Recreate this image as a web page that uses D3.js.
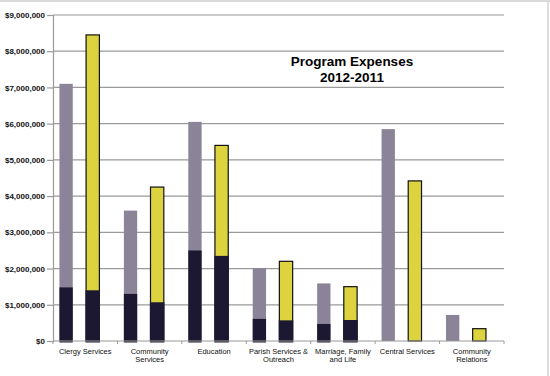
<!DOCTYPE html>
<html>
<head>
<meta charset="utf-8">
<script src="https://cdn.jsdelivr.net/npm/d3@7"></script>
<style>
  html, body { margin: 0; padding: 0; background: #fff; }
  svg { display: block; font-family: "Liberation Sans", Arial, sans-serif; }
</style>
</head>
<body>
<svg id="chart" width="550" height="376"></svg>
<script>
// ---- data ----
const categories = [
  ["Clergy Services"],
  ["Community", "Services"],
  ["Education"],
  ["Parish Services &", "Outreach"],
  ["Marriage, Family", "and Life"],
  ["Central Services"],
  ["Community", "Relations"]
];
const series = ["2012", "2011"];
const total2012 = [7100000, 3600000, 6050000, 2010000, 1590000, 5850000, 720000];
const total2011 = [8450000, 4250000, 5400000, 2200000, 1500000, 4420000, 340000];
const dark2012  = [1480000, 1300000, 2500000, 610000, 470000, 0, 0];
const dark2011  = [1400000, 1070000, 2350000, 570000, 580000, 0, 0];
const yTicks = [0, 1000000, 2000000, 3000000, 4000000, 5000000, 6000000, 7000000, 8000000, 9000000];
const titleLines = ["Program Expenses", "2012-2011"];

// ---- layout ----
const svg = d3.select("#chart");
const W = 550, H = 376;
const m = { left: 53, right: 46, top: 15, bottom: 35 };
const plotW = W - m.left - m.right, plotH = H - m.top - m.bottom;

// frame borders
svg.append("rect").attr("x", 0).attr("y", 0).attr("width", W).attr("height", 2).attr("fill", "#d9d9d9");
svg.append("rect").attr("x", 547).attr("y", 0).attr("width", 2).attr("height", H).attr("fill", "#dedede");

const g = svg.append("g").attr("transform", `translate(${m.left},${m.top})`);

const x0 = d3.scaleBand().domain(d3.range(categories.length)).range([0, plotW]).padding(0);
const bw = x0.bandwidth();
const x1 = d3.scaleBand().domain(series).range([bw * 0.1, bw * 0.72]).paddingInner(0.5).paddingOuter(0);
const y = d3.scaleLinear().domain([0, 9000000]).range([plotH, 0]);

// gridlines
g.append("g").selectAll("line").data(yTicks.filter(d => d > 0)).join("line")
  .attr("x1", 0).attr("x2", plotW)
  .attr("y1", d => y(d)).attr("y2", d => y(d))
  .attr("stroke", "#9a9a9a").attr("stroke-width", 1.2);

// y axis
const yAxis = d3.axisLeft(y).tickValues(yTicks).tickSize(6).tickPadding(2)
  .tickFormat(d => "$" + d3.format(",")(d));
const ya = g.append("g").call(yAxis);
ya.select(".domain").attr("stroke", "#9a9a9a").attr("stroke-width", 1.2);
ya.selectAll(".tick line").attr("stroke", "#9a9a9a").attr("stroke-width", 1.2);
ya.selectAll(".tick text").attr("font-size", 8).attr("fill", "#111")
  .attr("font-family", "Liberation Sans, Arial, sans-serif").attr("font-weight", "bold");

// bars
const rows = categories.map((c, i) => ({
  i,
  bars: [
    { s: "2012", total: total2012[i], dark: dark2012[i] },
    { s: "2011", total: total2011[i], dark: dark2011[i] }
  ]
}));
const color = { "2012": "#8b8398", "2011": "#dcd33e" };
const cg = g.selectAll(".cat").data(rows).join("g")
  .attr("transform", d => `translate(${x0(d.i)},0)`);
cg.selectAll(".tot").data(d => d.bars).join("rect")
  .attr("x", d => x1(d.s)).attr("width", x1.bandwidth())
  .attr("y", d => y(d.total)).attr("height", d => y(0) - y(d.total))
  .attr("fill", d => color[d.s])
  .attr("stroke", d => d.s === "2011" ? "#111" : "none").attr("stroke-width", 1.2);
cg.selectAll(".dk").data(d => d.bars.filter(b => b.dark > 0)).join("rect")
  .attr("x", d => x1(d.s) - (d.s === "2011" ? 0.6 : 0))
  .attr("width", d => x1.bandwidth() + (d.s === "2011" ? 1.2 : 0))
  .attr("y", d => y(d.dark)).attr("height", d => y(0) - y(d.dark) + 1.5)
  .attr("fill", "#1d1831");

// x axis
const xa = g.append("g").attr("transform", `translate(0,${plotH})`);
xa.append("line").attr("x1", 0).attr("x2", plotW).attr("stroke", "#9a9a9a").attr("stroke-width", 1.2);
xa.selectAll(".xt").data(d3.range(categories.length + 1)).join("line")
  .attr("x1", d => d * bw).attr("x2", d => d * bw).attr("y1", 0).attr("y2", 3)
  .attr("stroke", "#9a9a9a");
const labels = xa.selectAll(".lab").data(categories).join("text")
  .attr("x", (d, i) => x0(i) + bw / 2).attr("y", 12.5)
  .attr("text-anchor", "middle").attr("font-size", 7.5).attr("fill", "#111");
labels.selectAll("tspan").data(d => d).join("tspan")
  .attr("x", function () { return this.parentNode.getAttribute("x"); })
  .attr("dy", (d, i) => i === 0 ? 0 : 8.7)
  .text(d => d);

// title
svg.append("text").attr("x", 352).attr("y", 66).attr("text-anchor", "middle")
  .attr("font-size", 13.5).attr("font-weight", "bold").attr("fill", "#000")
  .selectAll("tspan").data(titleLines).join("tspan")
  .attr("x", 352).attr("dy", (d, i) => i === 0 ? 0 : 15.5).text(d => d);
</script>
</body>
</html>
